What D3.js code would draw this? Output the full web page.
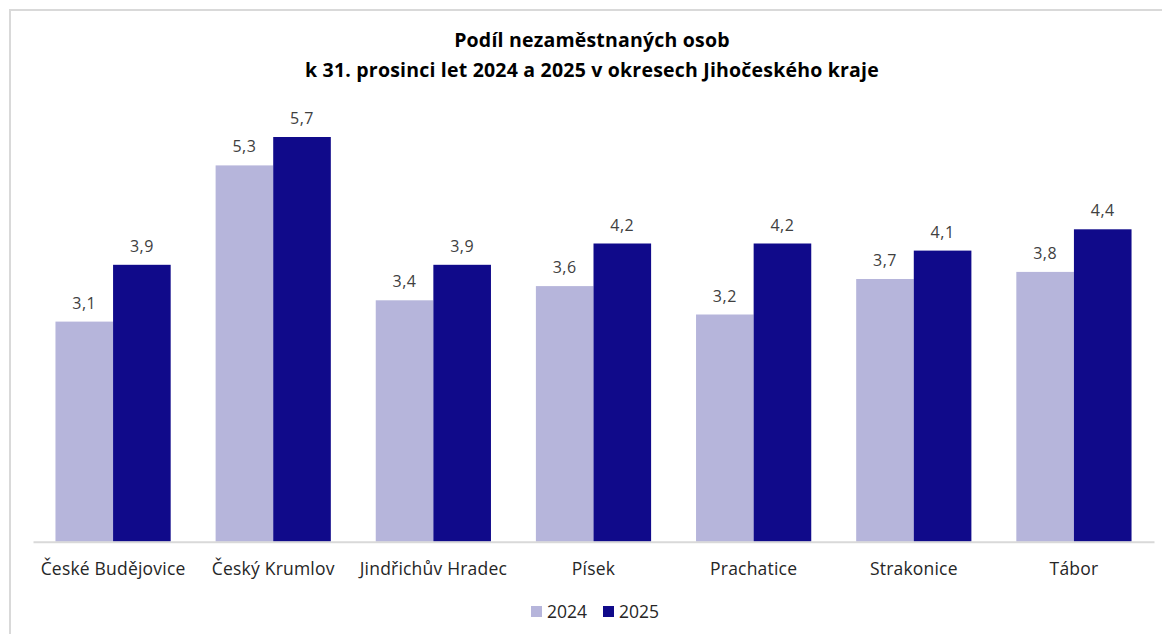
<!DOCTYPE html>
<html>
<head>
<meta charset="utf-8">
<script src="https://cdn.jsdelivr.net/npm/d3@7"></script>
<style>
  body { margin: 0; background: #fff; }
  svg { display: block; font-family: "Open Sans", sans-serif; }
</style>
</head>
<body>
<svg width="1162" height="634"></svg>
<script>
const districts = ["České Budějovice", "Český Krumlov", "Jindřichův Hradec", "Písek", "Prachatice", "Strakonice", "Tábor"];
const years = ["2024", "2025"];
const values2024 = [3.1, 5.3, 3.4, 3.6, 3.2, 3.7, 3.8];
const values2025 = [3.9, 5.7, 3.9, 4.2, 4.2, 4.1, 4.4];
const titleLines = ["Podíl nezaměstnaných osob", "k 31. prosinci let 2024 a 2025 v okresech Jihočeského kraje"];

const colors = { "2024": "#b6b5db", "2025": "#100a8a" };

const svg = d3.select("svg");

// outer frame (runs off the right/bottom edge like the original)
svg.append("rect")
    .attr("x", 10).attr("y", 10)
    .attr("width", 1170).attr("height", 640)
    .attr("fill", "none")
    .attr("stroke", "#d9d9d9")
    .attr("stroke-width", 2);

const baseline = 541.7;

const rows = districts.map((d, i) => ({ district: d, "2024": values2024[i], "2025": values2025[i] }));

const x = d3.scaleBand()
    .domain(districts)
    .range([33, 1154]);

const xInner = d3.scaleBand()
    .domain(years)
    .range([0, x.bandwidth()])
    .paddingOuter(0.39)
    .paddingInner(0);

const y = d3.scaleLinear()
    .domain([0, 6])
    .range([baseline, baseline - 426]);

// title
svg.append("g").selectAll("text")
    .data(titleLines)
    .join("text")
    .attr("x", 592)
    .attr("y", (d, i) => 47 + i * 30)
    .attr("text-anchor", "middle")
    .attr("font-size", 19.5)
    .attr("font-weight", "bold")
    .attr("letter-spacing", 0.2)
    .attr("fill", "#000")
    .text(d => d);

const groups = svg.append("g").selectAll("g")
    .data(rows)
    .join("g")
    .attr("transform", d => `translate(${x(d.district)},0)`);

groups.selectAll("rect")
    .data(d => years.map(yr => ({ year: yr, value: d[yr] })))
    .join("rect")
    .attr("x", d => xInner(d.year))
    .attr("y", d => y(d.value))
    .attr("width", xInner.bandwidth())
    .attr("height", d => baseline - y(d.value))
    .attr("fill", d => colors[d.year]);

groups.selectAll("text.val")
    .data(d => years.map(yr => ({ year: yr, value: d[yr] })))
    .join("text")
    .attr("class", "val")
    .attr("x", d => xInner(d.year) + xInner.bandwidth() / 2)
    .attr("y", d => y(d.value) - 13)
    .attr("text-anchor", "middle")
    .attr("font-size", 16)
    .attr("letter-spacing", 0.5)
    .attr("fill", "#404040")
    .text(d => d3.format(".1f")(d.value).replace(".", ","));

// x axis
const xAxis = svg.append("g")
    .attr("transform", `translate(0,${baseline})`)
    .call(d3.axisBottom(x).tickSize(0).tickPadding(21));
xAxis.select(".domain").attr("stroke", "#d9d9d9").attr("stroke-width", 2);
xAxis.selectAll("text")
    .attr("font-size", 17.5)
    .attr("font-family", "Open Sans, sans-serif")
    .attr("letter-spacing", 0.2)
    .attr("fill", "#262626");

// legend
const legend = svg.append("g").attr("transform", "translate(531,606)");
const legendX = [0, 72];
const li = legend.selectAll("g")
    .data(years)
    .join("g")
    .attr("transform", (d, i) => `translate(${legendX[i]},0)`);
li.append("rect")
    .attr("width", 11).attr("height", 11)
    .attr("fill", d => colors[d]);
li.append("text")
    .attr("x", 16).attr("y", 11.5)
    .attr("font-size", 17.5)
    .attr("fill", "#262626")
    .text(d => d);
</script>
</body>
</html>
